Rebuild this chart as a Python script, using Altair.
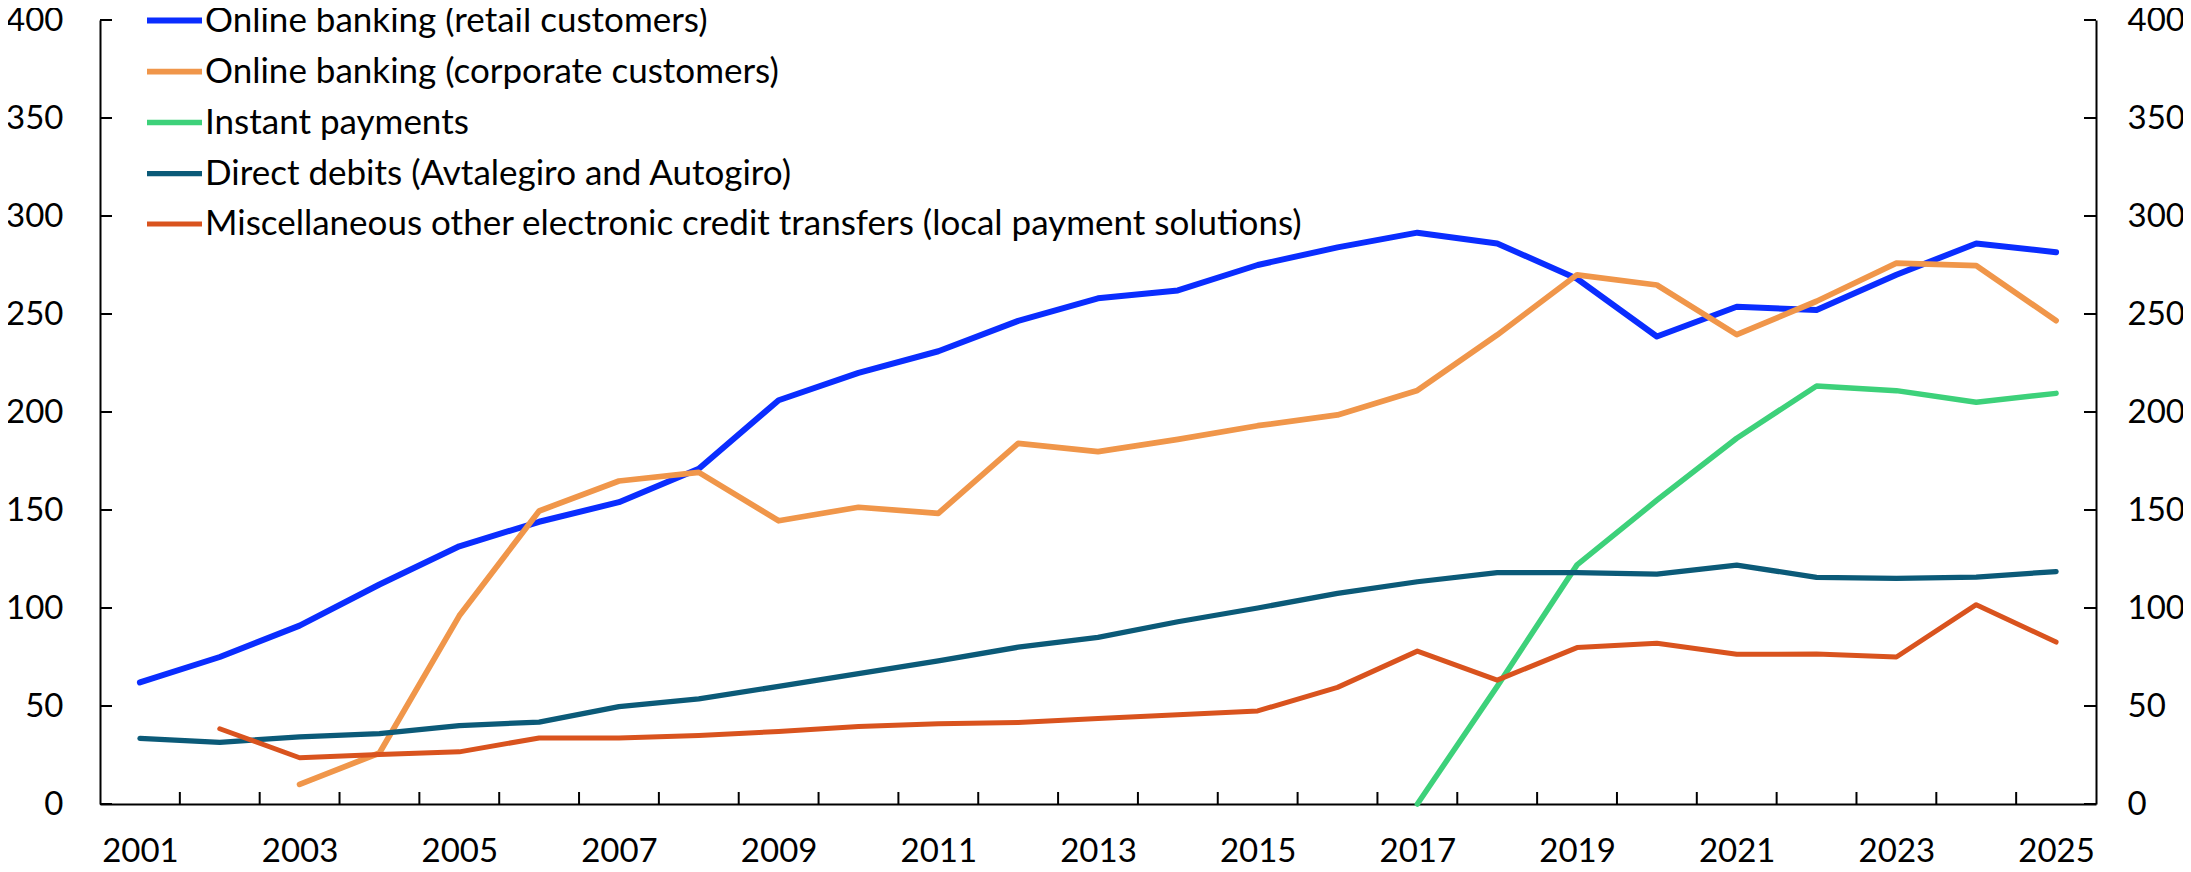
import altair as alt
import pandas as pd

years = list(range(2001, 2026))

series_names = [
    "Online banking (retail customers)",
    "Online banking (corporate customers)",
    "Instant payments",
    "Direct debits (Avtalegiro and Autogiro)",
    "Miscellaneous other electronic credit transfers (local payment solutions)",
]
series_colors = ["#0A2DFF", "#F0964A", "#3DD17A", "#0B5A78", "#D9531E"]
series_widths = [6, 5, 5, 4.5, 5]

retail = [62, 75, 91, 112, 131.5, 144, 154, 171, 206, 220, 231, 246.5, 258, 262, 275,
          284, 291.5, 286, 268, 238.5, 253.7, 252, 270, 286, 281.5]
corporate = [None, None, 10, 26, 96, 149.5, 164.8, 169.2, 144.5, 151.4, 148.3, 184, 179.8,
             186, 193, 198.5, 211, 239.3, 270, 264.8, 239.5, 256.5, 276, 274.7, 246.6]
instant = [None] * 16 + [0, 60, 122, 155, 186.6, 213.3, 210.9, 205, 209.5]
direct = [33.5, 31.5, 34.2, 35.9, 40, 41.8, 49.7, 53.6, 60, 66.5, 73, 80, 85, 93, 100,
          107.5, 113.4, 118, 118, 117.3, 121.9, 115.6, 115.1, 115.8, 118.6]
misc = [None, 38.4, 23.6, 25.3, 26.6, 33.7, 33.7, 34.9, 37, 39.5, 41, 41.6, 43.6, 45.5,
        47.5, 59.5, 78, 63.2, 79.8, 82, 76.4, 76.5, 75, 101.7, 82.6]

y_ticks = [0, 50, 100, 150, 200, 250, 300, 350, 400]
x_labels = years[::2]

W, H = 1996, 784
FONT = "Lato"
FS = 33
LFS = 35

rows = []
for name, vals in zip(series_names, [retail, corporate, instant, direct, misc]):
    for yr, v in zip(years, vals):
        if v is not None:
            rows.append({"year": yr, "value": v, "series": name})
df = pd.DataFrame(rows)

x_scale = alt.Scale(domain=[years[0] - 0.5, years[-1] + 0.5], nice=False, zero=False)
y_scale = alt.Scale(domain=[y_ticks[0], y_ticks[-1]], nice=False)

x_axis = alt.Axis(values=x_labels, labelExpr="datum.value", ticks=False, tickSize=0,
                  grid=False, labelPadding=31, title=None, domainColor="black",
                  domainWidth=2, labelOverlap=False, labelFlush=False, orient="bottom")

lines = alt.Chart(df).mark_line(strokeCap="round", strokeJoin="round").encode(
    x=alt.X("year:Q", scale=x_scale, axis=x_axis),
    y=alt.Y("value:Q", scale=y_scale,
            axis=alt.Axis(values=y_ticks, ticks=False, tickSize=0, grid=False,
                          labelPadding=37, title=None, orient="left",
                          domainColor="black", domainWidth=2)),
    color=alt.Color("series:N",
                    scale=alt.Scale(domain=series_names, range=series_colors),
                    legend=alt.Legend(title=None, orient="none", legendX=44, legendY=-30,
                                      symbolType="stroke", symbolSize=3025,
                                      symbolStrokeWidth=5.5, labelFont=FONT,
                                      labelFontSize=LFS, labelColor="black",
                                      labelOffset=0, rowPadding=2, padding=0,
                                      labelLimit=0)),
    strokeWidth=alt.StrokeWidth("series:N",
                                scale=alt.Scale(domain=series_names, range=series_widths),
                                legend=None),
)

# inward tick marks
xt = pd.DataFrame({"b": [y + 0.5 for y in years[:-1]]})
x_ticks = alt.Chart(xt).mark_rule(color="black", strokeWidth=2).encode(
    x=alt.X("b:Q", scale=x_scale, axis=x_axis),
    y=alt.value(H - 12), y2=alt.value(H),
)

yt = pd.DataFrame({"v": y_ticks})
left_ticks = alt.Chart(yt).mark_rule(color="black", strokeWidth=2).encode(
    y=alt.Y("v:Q", scale=y_scale, axis=None),
    x=alt.value(0), x2=alt.value(12),
)
right_ticks = alt.Chart(yt).mark_rule(color="black", strokeWidth=2).encode(
    y=alt.Y("v:Q", scale=y_scale,
            axis=alt.Axis(values=y_ticks, ticks=False, tickSize=0, grid=False,
                          labelPadding=31, title=None, orient="right",
                          domainColor="black", domainWidth=2)),
    x=alt.value(W - 12), x2=alt.value(W),
)

chart = alt.layer(lines, x_ticks, left_ticks, right_ticks).resolve_scale(
    y="independent"
).properties(
    width=W, height=H,
    autosize=alt.AutoSizeParams(type="none"),
    padding={"left": 92, "top": 12, "right": 87, "bottom": 60},
    background="white",
).configure_view(stroke=None).configure_axis(
    labelFont=FONT, labelFontSize=FS, labelColor="black"
)

chart.save("out.html", embed_options={"renderer": "svg", "actions": False})
